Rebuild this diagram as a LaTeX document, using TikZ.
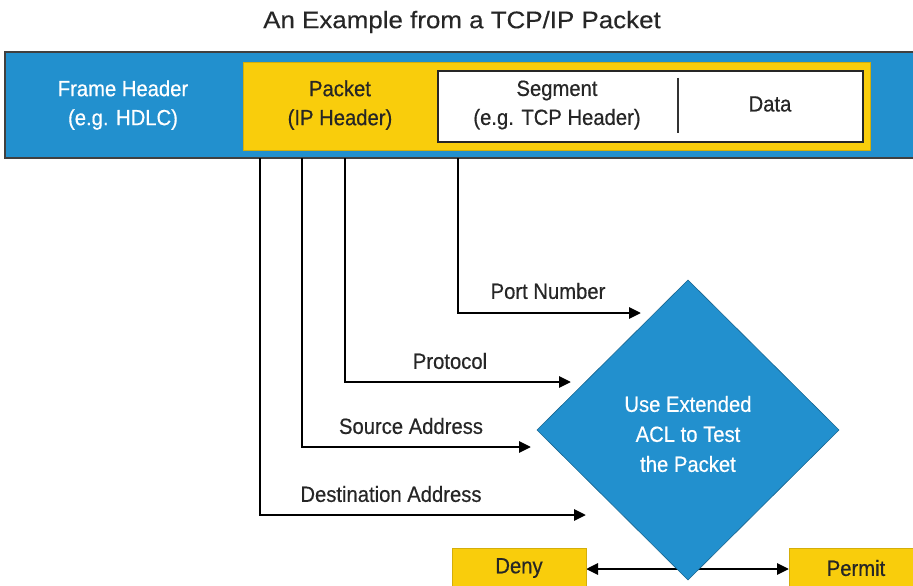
\documentclass[tikz,border=0pt]{standalone}
\usepackage{fontspec}
\setmainfont[FakeStretch=0.92,FakeBold=0.5]{Liberation Sans}
\newfontfamily\titlefont[FakeStretch=1.08,FakeBold=0.3]{Liberation Sans}
\usetikzlibrary{arrows.meta}
\definecolor{cblue}{HTML}{2290CE}
\definecolor{cyel}{HTML}{F9CD0C}
\definecolor{ctxt}{HTML}{262626}
\tikzset{
  txt/.style={font=\fontsize{22}{29}\selectfont, text=ctxt, align=center, inner sep=0pt},
  wtxt/.style={font=\fontsize{22}{29}\selectfont, text=white, align=center, inner sep=0pt},
  feed/.style={line width=2.8pt, -{Triangle[length=12pt,width=11pt]}, line join=miter},
  ybox/.style={fill=cyel, draw=cyel!85!black, line width=0.6pt},
}
\begin{document}
\begin{tikzpicture}[x=1pt,y=-1pt]
\useasboundingbox (0,0) rectangle (913,586);
% title
\node[txt, font=\titlefont\fontsize{24}{26}\selectfont] (title) at (462,22) {An Example from a TCP/IP Packet};
% band
\path[fill=cblue, draw=black!75, line width=1.2pt] (5,52) rectangle (925,158);
\node[ybox, minimum width=627, minimum height=88, anchor=north west, inner sep=0pt] (pkt) at (243,62) {};
\node[fill=white, draw=black!85, line width=1.6pt, minimum width=425, minimum height=71, anchor=north west, inner sep=0pt] (seg) at (437,70) {};
\draw[line width=1.3pt, draw=black!80] (678,78) -- (678,133);
\node[wtxt] (fh) at (123,105) {Frame Header\\(e.g. HDLC)};
\node[txt] (pk) at (340,105) {Packet\\(IP Header)};
\node[txt] (sg) at (557,105) {Segment\\(e.g. TCP Header)};
\node[txt] (dt) at (770,104) {Data};
% connector start points
\coordinate (s1) at (458,158);
\coordinate (s2) at (345,158);
\coordinate (s3) at (302,158);
\coordinate (s4) at (260,158);
\coordinate (e1) at (641,313);
\coordinate (e2) at (571,382);
\coordinate (e3) at (531,447);
\coordinate (e4) at (586,515);
% Deny / Permit
\draw[line width=2.8pt, {Triangle[length=12pt,width=11pt]}-{Triangle[length=12pt,width=11pt]}] (586,569) -- (789,569);
\node[ybox, minimum width=134, minimum height=46, anchor=north west, inner sep=0pt] (deny) at (452,548) {};
\node[txt] at (519,568) {Deny};
\node[ybox, minimum width=140, minimum height=46, anchor=north west, inner sep=0pt] (permit) at (789,548) {};
\node[txt] at (856,568) {Permit};
% diamond
\path[fill=cblue, draw=cblue!70!black, line width=0.6pt] (688,280) -- (839,430) -- (688,580) -- (537,430) -- cycle;
\node[wtxt, font=\fontsize{22}{30}\selectfont] (acl) at (688,434) {Use Extended\\ACL to Test\\the Packet};
% feeds
\draw[feed] (s1) |- (e1);
\draw[feed] (s2) |- (e2);
\draw[feed] (s3) |- (e3);
\draw[feed] (s4) |- (e4);
\node[txt] (l1) at (548,291) {Port Number};
\node[txt] (l2) at (450,361) {Protocol};
\node[txt] (l3) at (411,426) {Source Address};
\node[txt] (l4) at (391,494) {Destination Address};
\end{tikzpicture}
\end{document}
